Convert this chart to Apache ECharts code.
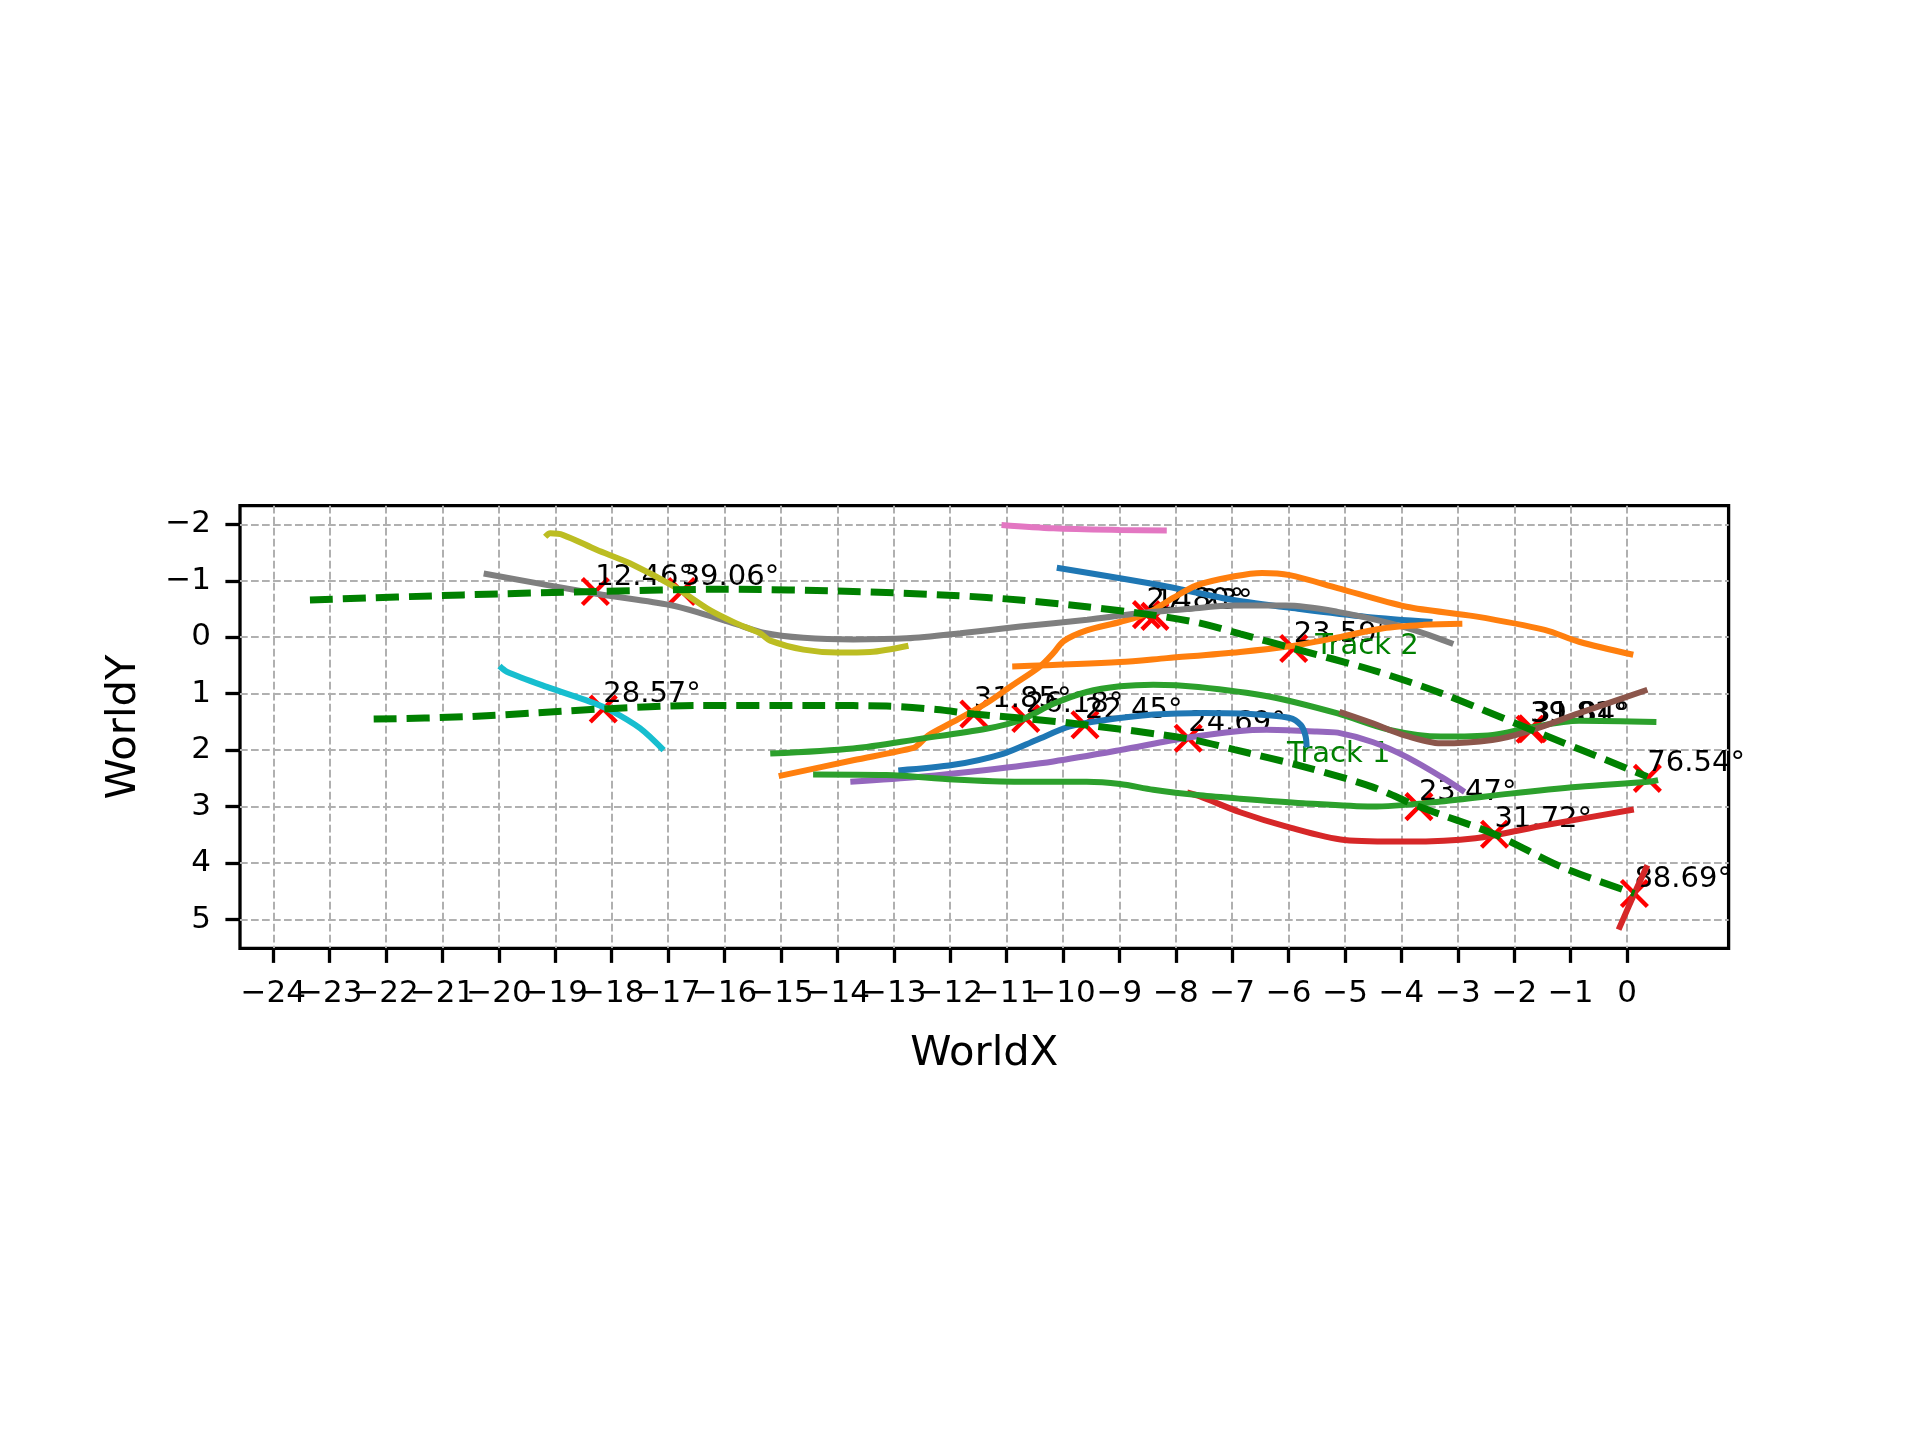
<!DOCTYPE html>
<html>
<head>
<meta charset="utf-8">
<script src="https://cdn.jsdelivr.net/npm/echarts@6/dist/echarts.min.js"></script>
<style>
  html, body { margin: 0; padding: 0; background: #fff; }
  #chart { width: 1920px; height: 1440px; }
</style>
</head>
<body>
<div id="chart"></div>
<script>
// tick values
const xTicks = [-24, -23, -22, -21, -20, -19, -18, -17, -16, -15, -14, -13, -12, -11, -10, -9, -8, -7, -6, -5, -4, -3, -2, -1, 0];
const yTicks = [-2, -1, 0, 1, 2, 3, 4, 5];

// trajectories [WorldX, WorldY]
const blueUpper = [[-10.11, -1.23], [-8.16, -0.9], [-6.98, -0.66], [-5.8, -0.5], [-4.61, -0.36], [-3.45, -0.27]];
const orangeBig = [[-15.04, 2.46], [-13.72, 2.18], [-12.65, 1.96], [-12.54, 1.88], [-12.39, 1.74], [-11.95, 1.5], [-11.36, 1.17],
  [-10.94, 0.88], [-10.41, 0.52], [-10.17, 0.28], [-9.99, 0.07], [-9.58, -0.12], [-8.99, -0.27], [-8.51, -0.42], [-8.04, -0.7],
  [-7.63, -0.92], [-6.96, -1.08], [-6.47, -1.14], [-5.98, -1.1], [-5.13, -0.87], [-3.91, -0.54], [-2.69, -0.37], [-1.46, -0.13],
  [-0.85, 0.08], [0.11, 0.31]];
const greenUpper = [[-15.19, 2.06], [-13.72, 1.97], [-12.54, 1.8], [-11.36, 1.62], [-10.76, 1.47], [-10.17, 1.18], [-9.58, 0.97],
  [-8.99, 0.87], [-8.4, 0.84], [-7.6, 0.88], [-6.35, 1.05], [-5.13, 1.35], [-4.21, 1.64], [-3.3, 1.76], [-2.38, 1.73],
  [-1.77, 1.61], [-0.85, 1.48], [0.52, 1.5]];
const redLong = [[-7.8, 2.75], [-7.57, 2.82], [-6.86, 3.1], [-6.05, 3.35], [-5.01, 3.59], [-3.91, 3.62], [-2.69, 3.56], [-1.46, 3.33], [0.12, 3.05]];
const purpleLine = [[-13.77, 2.56], [-12.53, 2.47], [-11.36, 2.35], [-10.17, 2.2], [-8.99, 2.0], [-7.81, 1.78], [-6.86, 1.66],
  [-6.39, 1.64], [-5.5, 1.67], [-5.13, 1.69], [-4.5, 1.86], [-3.91, 2.12], [-3.3, 2.47], [-2.88, 2.74]];
const brownLine = [[-5.1, 1.32], [-4.52, 1.52], [-4.0, 1.72], [-3.3, 1.88], [-2.39, 1.82], [-1.77, 1.67], [-0.86, 1.35], [0.36, 0.93]];
const pinkLine = [[-11.09, -1.99], [-10.17, -1.93], [-9.0, -1.9], [-8.16, -1.89]];
const grayLine = [[-20.27, -1.13], [-18.27, -0.77], [-16.97, -0.57], [-16.4, -0.42], [-15.79, -0.23], [-15.31, -0.08], [-14.6, 0.01],
  [-13.72, 0.04], [-12.77, 0.02], [-11.82, -0.07], [-10.76, -0.19], [-9.57, -0.31], [-8.69, -0.42], [-7.8, -0.5], [-6.96, -0.56],
  [-6.05, -0.56], [-5.13, -0.45], [-4.21, -0.25], [-3.6, -0.07], [-3.08, 0.12]];
const oliveLine = [[-19.18, -1.78], [-19.09, -1.84], [-18.86, -1.81], [-18.27, -1.55], [-17.68, -1.31], [-16.9, -0.9], [-16.26, -0.48],
  [-15.8, -0.25], [-15.37, -0.07], [-15.19, 0.06], [-14.6, 0.22], [-14.01, 0.27], [-13.42, 0.26], [-12.74, 0.15]];
const cyanLine = [[-19.99, 0.51], [-19.86, 0.61], [-19.15, 0.88], [-18.39, 1.14], [-18.03, 1.29], [-17.5, 1.61], [-17.08, 2.0]];
const blueLower = [[-12.92, 2.36], [-11.94, 2.26], [-11.05, 2.06], [-10.47, 1.82], [-9.88, 1.58], [-9.28, 1.47], [-8.4, 1.37],
  [-7.5, 1.34], [-6.86, 1.35], [-5.98, 1.43], [-5.78, 1.56], [-5.7, 1.75], [-5.68, 1.95]];
const orangeFlat = [[-10.9, 0.52], [-8.99, 0.44], [-8.16, 0.37], [-6.86, 0.26], [-5.98, 0.16], [-5.21, 0.02], [-4.32, -0.16], [-3.6, -0.22], [-2.92, -0.24]];
const greenLower = [[-14.43, 2.43], [-13.13, 2.44], [-11.94, 2.52], [-10.76, 2.56], [-9.58, 2.56], [-8.99, 2.6], [-8.4, 2.7],
  [-7.57, 2.8], [-6.86, 2.86], [-5.74, 2.94], [-4.52, 3.0], [-3.3, 2.91], [-2.07, 2.77], [-0.85, 2.65], [0.37, 2.56], [0.55, 2.53]];
const redShort = [[-0.15, 5.18], [0.13, 4.54], [0.36, 4.04]];

// dashed tracks
const track1 = [[-22.22, 1.45], [-20.63, 1.41], [-18.86, 1.31], [-18.15, 1.27], [-16.5, 1.21], [-14.31, 1.21], [-13.13, 1.22],
  [-12.24, 1.28], [-11.58, 1.36], [-10.66, 1.44], [-9.61, 1.55], [-7.78, 1.8], [-6.96, 1.99], [-5.74, 2.29], [-4.52, 2.65],
  [-3.69, 3.0], [-2.35, 3.49], [-1.16, 4.07], [0.13, 4.54]];
const track2 = [[-23.35, -0.66], [-20.63, -0.75], [-18.27, -0.81], [-16.0, -0.85], [-13.72, -0.81], [-11.94, -0.74], [-10.77, -0.66],
  [-9.58, -0.54], [-8.46, -0.4], [-7.57, -0.25], [-6.86, -0.06], [-5.91, 0.2], [-4.52, 0.58], [-3.3, 0.99], [-1.72, 1.63], [0.36, 2.47]];

// crossing points with angle labels
const crossPoints = [
  [-18.29, -0.81, '12.46°'], [-16.76, -0.81, '39.06°'], [-18.15, 1.27, '28.57°'],
  [-11.58, 1.36, '31.85°'], [-10.66, 1.44, '26.18°'], [-9.61, 1.55, '22.45°'], [-7.78, 1.79, '24.69°'],
  [-8.52, -0.40, '27.80°'], [-8.37, -0.37, '14.23°'], [-5.91, 0.2, '23.59°'],
  [-1.72, 1.63, '39.81°'], [-1.68, 1.62, '31.84°'], [0.36, 2.5, '76.54°'],
  [-3.69, 3.0, '23.47°'], [-2.35, 3.49, '31.72°'], [0.13, 4.54, '88.69°']
];
const trackLabels = [[-6.03, 2.33, 'Track 1'], [-5.53, 0.42, 'Track 2']];

const FONT = 'DejaVu Sans';
const MINUS = '\u2212';
const X_MIN = -24.59, X_MAX = 1.8;

// labels overlap like the original, so split them over two stacked axes
const xTicksEven = xTicks.filter(v => v % 2 === 0);
const xTicksOdd = xTicks.filter(v => v % 2 !== 0);

function fmt(v) { return v < 0 ? MINUS + Math.abs(v) : String(v); }

function traj(data, color) {
  return {
    type: 'line', data: data, smooth: 0.3, showSymbol: false, symbol: 'none',
    lineStyle: { color: color, width: 6 }, silent: true
  };
}
function trackLine(data) {
  return {
    type: 'line', data: data, smooth: 0.3, showSymbol: false, symbol: 'none',
    lineStyle: { color: '#008000', width: 7, type: [23, 10] }, silent: true
  };
}

const tickLabelStyle = { margin: 30, fontSize: 31, color: '#000', fontFamily: FONT, hideOverlap: false, formatter: fmt };

const chart = echarts.init(document.getElementById('chart'), null, { renderer: 'canvas' });

const option = {
  animation: false,
  backgroundColor: '#ffffff',
  grid: {
    left: 240, top: 505.7, width: 1488.6, height: 442.6,
    show: true, borderColor: '#000', borderWidth: 3.3, backgroundColor: 'transparent',
    containLabel: false, outerBoundsMode: 'none'
  },
  xAxis: [{
    type: 'value', min: X_MIN, max: X_MAX, position: 'bottom', offset: 0,
    axisLine: { show: false, onZero: false },
    axisTick: { show: true, length: 14.6, lineStyle: { color: '#000', width: 3.3 }, customValues: xTicks },
    axisLabel: Object.assign({ customValues: xTicksEven }, tickLabelStyle),
    splitLine: { show: true, lineStyle: { color: '#b0b0b0', width: 2, type: [7.7, 3.3] } },
    name: 'WorldX', nameLocation: 'middle', nameGap: 85,
    nameTextStyle: { fontSize: 41.7, color: '#000', fontFamily: FONT }
  }, {
    type: 'value', min: X_MIN, max: X_MAX, position: 'bottom', offset: 0,
    axisLine: { show: false, onZero: false },
    axisTick: { show: false, customValues: xTicksOdd },
    axisLabel: Object.assign({ customValues: xTicksOdd }, tickLabelStyle),
    splitLine: { show: false }
  }],
  yAxis: {
    type: 'value', inverse: true, min: -2.33, max: 5.51,
    axisLine: { show: false, onZero: false },
    axisTick: { show: true, length: 14.6, lineStyle: { color: '#000', width: 3.3 }, customValues: yTicks },
    axisLabel: {
      customValues: yTicks, margin: 29, fontSize: 31, color: '#000', fontFamily: FONT,
      hideOverlap: false, formatter: fmt
    },
    splitLine: { show: true, lineStyle: { color: '#b0b0b0', width: 2, type: [7.7, 3.3] } },
    name: 'WorldY', nameLocation: 'middle', nameGap: 95, nameRotate: 90,
    nameTextStyle: { fontSize: 41.7, color: '#000', fontFamily: FONT }
  },
  series: [
    traj(blueUpper, '#1f77b4'),
    traj(orangeBig, '#ff7f0e'),
    traj(greenUpper, '#2ca02c'),
    traj(redLong, '#d62728'),
    traj(purpleLine, '#9467bd'),
    traj(brownLine, '#8c564b'),
    traj(pinkLine, '#e377c2'),
    traj(grayLine, '#7f7f7f'),
    traj(oliveLine, '#bcbd22'),
    traj(cyanLine, '#17becf'),
    traj(blueLower, '#1f77b4'),
    traj(orangeFlat, '#ff7f0e'),
    traj(greenLower, '#2ca02c'),
    traj(redShort, '#d62728'),
    trackLine(track1),
    trackLine(track2),
    {
      type: 'scatter',
      data: crossPoints,
      symbol: 'path://M0 0L10 10M10 0L0 10',
      symbolSize: 26,
      itemStyle: { color: 'transparent', borderColor: '#ff0000', borderWidth: 4.4, opacity: 1 },
      label: {
        show: true, position: ['50%', '50%'], align: 'left', verticalAlign: 'bottom',
        fontSize: 29, lineHeight: 29, color: '#000', fontFamily: FONT, opacity: 1,
        formatter: p => p.value[2]
      },
      emphasis: { disabled: true },
      silent: true
    },
    {
      type: 'scatter',
      data: trackLabels,
      symbolSize: 0,
      itemStyle: { opacity: 1 },
      label: {
        show: true, position: ['50%', '50%'], align: 'left', verticalAlign: 'bottom',
        fontSize: 29, lineHeight: 29, color: '#008000', fontFamily: FONT, opacity: 1,
        formatter: p => p.value[2]
      },
      emphasis: { disabled: true },
      silent: true
    }
  ]
};

chart.setOption(option);
</script>
</body>
</html>
